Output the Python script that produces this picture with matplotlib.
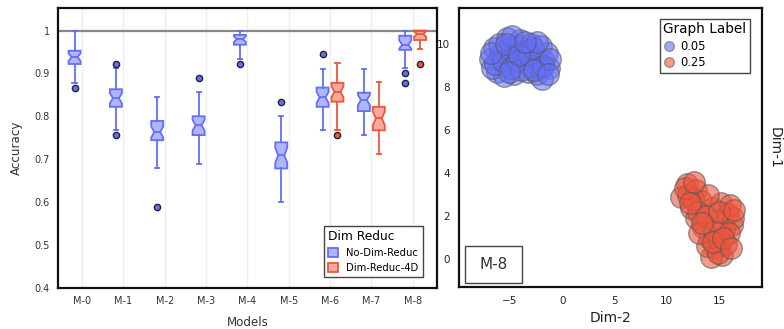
import matplotlib
matplotlib.use("Agg")
import matplotlib.pyplot as plt
from matplotlib.patches import Patch, Rectangle
from matplotlib.lines import Line2D
import numpy as np

plt.rcParams['font.family'] = ['DejaVu Sans']

# ---------------- data: box plots ----------------
models = ['M-0', 'M-1', 'M-2', 'M-3', 'M-4', 'M-5', 'M-6', 'M-7', 'M-8']
n_samples = 30

# No-Dim-Reduc
nd_whislo = [0.878, 0.767, 0.680, 0.689, 0.934, 0.600, 0.767, 0.756, 0.912]
nd_q1     = [0.922, 0.822, 0.744, 0.756, 0.967, 0.678, 0.822, 0.812, 0.955]
nd_med    = [0.938, 0.842, 0.763, 0.779, 0.980, 0.709, 0.844, 0.838, 0.967]
nd_q3     = [0.953, 0.863, 0.789, 0.800, 0.990, 0.739, 0.867, 0.855, 0.988]
nd_whishi = [1.000, 0.912, 0.845, 0.856, 1.000, 0.800, 0.910, 0.910, 1.000]
nd_fliers = [[0.867], [0.923, 0.756], [0.589], [0.890], [0.923], [0.834],
             [0.945], [], [0.900, 0.878]]

# Dim-Reduc-4D (only M-6, M-7, M-8)
dr_models = ['M-6', 'M-7', 'M-8']
dr_whislo = [0.767, 0.711, 0.956]
dr_q1     = [0.834, 0.767, 0.978]
dr_med    = [0.857, 0.795, 0.992]
dr_q3     = [0.878, 0.822, 1.000]
dr_whishi = [0.924, 0.879, 1.000]
dr_fliers = [[0.756], [], [0.923]]

# ---------------- data: scatter ----------------
blue_x = [-6.9, -6.5, -6.2, -5.9, -5.3, -5.0, -4.6, -4.2, -4.0, -3.7, -3.3, -3.0,
          -2.6, -2.4, -2.0, -1.7, -1.3, -1.5, -5.6, -6.7, -4.5, -3.5, -2.2, -5.2,
          -6.0, -1.9, -4.8, -3.0, -6.4, -5.7, -4.9, -4.3, -3.9, -3.2, -2.8, -2.4,
          -1.8, -1.2, -6.8, -5.4, -4.1, -2.7, -3.6, -5.1, -1.4]
blue_y = [9.3, 9.8, 8.7, 9.5, 10.3, 9.1, 8.6, 9.9, 10.2, 9.3, 8.7, 10.0,
          9.4, 8.6, 9.9, 9.2, 8.9, 9.6, 8.5, 8.9, 9.5, 9.7, 8.9, 9.8,
          10.0, 8.4, 10.4, 9.0, 9.1, 9.2, 8.9, 9.2, 8.8, 9.5, 9.8, 10.1,
          9.0, 9.3, 9.6, 10.0, 9.5, 8.8, 10.1, 8.7, 8.6]
red_x = [11.9, 11.4, 12.3, 12.0, 12.8, 13.3, 12.8, 13.5, 14.3, 15.2, 15.8, 16.2,
         15.5, 14.0, 14.6, 15.3, 15.7, 14.2, 13.8, 16.0, 13.1, 12.5, 14.8, 15.0,
         16.3, 13.9, 11.7, 12.6, 13.0, 13.7, 14.5, 15.0, 15.9, 16.4, 14.9, 14.4,
         15.4, 13.4, 12.2, 16.1]
red_y = [3.5, 2.9, 2.4, 3.0, 3.2, 2.7, 1.9, 1.5, 2.4, 2.6, 2.1, 1.6,
         1.4, 1.0, 0.5, 0.2, 0.7, 0.1, 0.6, 2.5, 1.2, 2.8, 1.8, 0.9,
         1.9, 3.0, 3.3, 3.6, 2.2, 2.0, 1.3, 2.2, 1.2, 2.3, 0.3, 0.8,
         1.0, 1.7, 2.6, 0.5]

BLUE = '#636EFA'
RED = '#EF553B'

fig = plt.figure(figsize=(7.84, 3.29), dpi=100)
ax = fig.add_axes([0.074, 0.126, 0.483, 0.850])
ax2 = fig.add_axes([0.585, 0.127, 0.387, 0.848])


def make_stats(whislo, q1, med, q3, whishi, fliers):
    stats = []
    for lo, a, m, b, hi, fl in zip(whislo, q1, med, q3, whishi, fliers):
        iqr = b - a
        half = 1.57 * iqr / np.sqrt(n_samples)
        stats.append(dict(whislo=lo, q1=a, med=m, q3=b, whishi=hi, fliers=fl,
                          cilo=max(a, m - half), cihi=min(b, m + half)))
    return stats


def draw(stats, positions, color):
    ax.bxp(stats, positions=positions, widths=0.29, shownotches=True,
           patch_artist=True, showfliers=True, capwidths=0.1,
           boxprops=dict(facecolor=matplotlib.colors.to_rgba(color, 0.5),
                         edgecolor=color, linewidth=1.3),
           medianprops=dict(color=color, linewidth=1.3),
           whiskerprops=dict(color=color, linewidth=1.3),
           capprops=dict(color=color, linewidth=1.3),
           flierprops=dict(marker='o', markerfacecolor=color,
                           markeredgecolor='#222233', markersize=4.5,
                           markeredgewidth=1.0, linestyle='none'))


x_all = np.arange(len(models))
off = 0.18
draw(make_stats(nd_whislo, nd_q1, nd_med, nd_q3, nd_whishi, nd_fliers),
     x_all - off, BLUE)
dr_pos = np.array([models.index(m) for m in dr_models]) + off
draw(make_stats(dr_whislo, dr_q1, dr_med, dr_q3, dr_whishi, dr_fliers),
     dr_pos, RED)

ax.set_xlim(-0.58, 8.58)
ax.set_ylim(0.4, 1.053)
ax.set_xticks(x_all)
ax.set_xticklabels(models)
ax.set_yticks([0.4, 0.5, 0.6, 0.7, 0.8, 0.9, 1.0])
ax.set_yticklabels(['0.4', '0.5', '0.6', '0.7', '0.8', '0.9', '1'])
ax.tick_params(length=0, labelsize=7, pad=6, colors='#333333')
for x in x_all:
    ax.axvline(x, color='#EEEEEE', lw=1, zorder=0)
ax.axhline(1.0, color='#888888', lw=1.6, zorder=0.5)
for s in ax.spines.values():
    s.set_linewidth(1.6)
    s.set_color('#111111')
ax.set_xlabel('Models', fontsize=8.6, color='#333333', labelpad=7)
ax.set_ylabel('Accuracy', fontsize=8.6, color='#333333', labelpad=8)

handles = [Patch(facecolor=matplotlib.colors.to_rgba(BLUE, 0.5), edgecolor=BLUE, lw=1.3),
           Patch(facecolor=matplotlib.colors.to_rgba(RED, 0.5), edgecolor=RED, lw=1.3)]
leg = ax.legend(handles, ['No-Dim-Reduc', 'Dim-Reduc-4D'], title='Dim Reduc',
                loc='lower right', bbox_to_anchor=(0.976, 0.021), fontsize=7.2,
                title_fontsize=8.8, fancybox=False, edgecolor='#444444',
                framealpha=1, alignment='left', handlelength=1.0,
                handleheight=1.0, borderpad=0.4, labelspacing=0.5)
leg.get_frame().set_linewidth(1.0)

# ---------------- scatter ----------------
ax2.scatter(blue_x, blue_y, s=240, facecolor=matplotlib.colors.to_rgba(BLUE, 0.55),
            edgecolor=(0.35, 0.35, 0.35, 0.6), linewidth=1.0, zorder=3)
ax2.scatter(red_x, red_y, s=240, facecolor=matplotlib.colors.to_rgba(RED, 0.6),
            edgecolor=(0.35, 0.35, 0.35, 0.6), linewidth=1.0, zorder=3)
ax2.set_xlim(-9.9, 19.1)
ax2.set_ylim(-1.3, 11.67)
ax2.set_xticks([-5, 0, 5, 10, 15])
ax2.set_xticklabels(['\u22125', '0', '5', '10', '15'])
ax2.set_yticks([0, 2, 4, 6, 8, 10])
ax2.tick_params(length=0, labelsize=7.5, pad=6, colors='#222222')
for s in ax2.spines.values():
    s.set_linewidth(1.6)
    s.set_color('#111111')
ax2.set_xlabel('Dim-2', fontsize=10, color='#222222', labelpad=4)
ax2.yaxis.set_label_position('right')
ax2.set_ylabel('Dim-1', fontsize=10, color='#222222', rotation=270, labelpad=14)

h2 = [Line2D([], [], marker='o', ls='none', markersize=7,
             markerfacecolor=matplotlib.colors.to_rgba(BLUE, 0.6), markeredgecolor=(0.4, 0.4, 0.4, 0.6)),
      Line2D([], [], marker='o', ls='none', markersize=7,
             markerfacecolor=matplotlib.colors.to_rgba(RED, 0.6), markeredgecolor=(0.4, 0.4, 0.4, 0.6))]
leg2 = ax2.legend(h2, ['0.05', '0.25'], title='Graph Label', loc='upper right',
                  bbox_to_anchor=(0.978, 0.982), fontsize=8.3, title_fontsize=9.8,
                  fancybox=False, edgecolor='#444444', framealpha=1,
                  alignment='left', handlelength=1.0, handletextpad=0.5,
                  borderpad=0.3, labelspacing=0.3)
leg2.get_frame().set_linewidth(1.0)

ax2.add_patch(Rectangle((0.02, 0.016), 0.189, 0.133, transform=ax2.transAxes,
                        fill=False, edgecolor='#444444', lw=1.0, zorder=5))
ax2.text(0.1145, 0.0825, 'M-8', transform=ax2.transAxes, ha='center', va='center',
         fontsize=11, color='#333333', zorder=6)

fig.savefig('out.png', dpi=100)
